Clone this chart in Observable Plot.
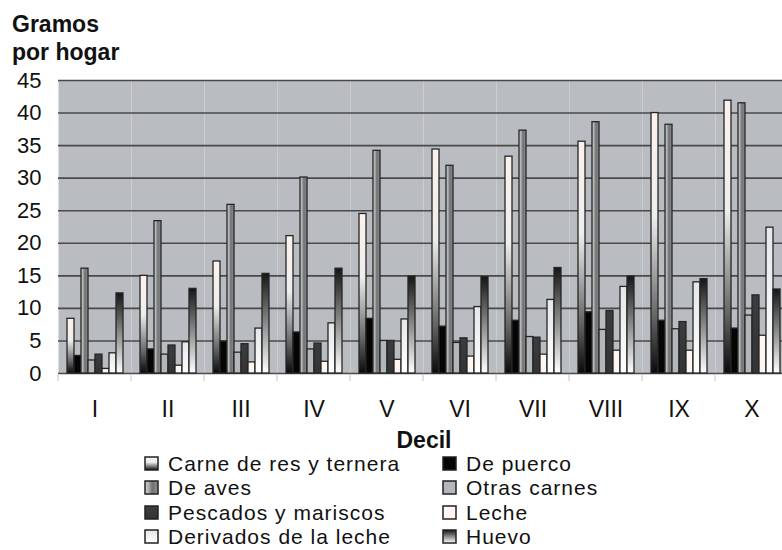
<!DOCTYPE html>
<html>
<head>
<meta charset="utf-8">
<script src="https://cdn.jsdelivr.net/npm/d3@7"></script>
<script src="https://cdn.jsdelivr.net/npm/@observablehq/plot@0.6"></script>
<style>
  body { margin: 0; width: 782px; height: 550px; overflow: hidden; background: #fff; position: relative;
         font-family: "Liberation Sans", Arial, sans-serif; color: #111; }
  #title { position: absolute; left: 12px; top: 10px; font-weight: bold; font-size: 23px; line-height: 28px; }
  #chart { position: absolute; left: 0; top: 0; width: 800px; }
  #chart svg { max-width: none !important; }
  #xlabel { position: absolute; left: 374px; width: 100px; top: 429px; text-align: center; font-weight: bold; font-size: 23px; line-height: 23px; }
  .leg { position: absolute; font-size: 21px; line-height: 21px; letter-spacing: 1px; white-space: nowrap; }
</style>
</head>
<body>
<div id="title">Gramos<br>por hogar</div>
<div id="chart"></div>
<div id="xlabel">Decil</div>
<div id="legend"></div>
<script>
// ---- data ----
const deciles = ["I", "II", "III", "IV", "V", "VI", "VII", "VIII", "IX", "X"];
const seriesNames = ["Carne de res y ternera", "De puerco", "De aves", "Otras carnes",
                     "Pescados y mariscos", "Leche", "Derivados de la leche", "Huevo"];
const carne     = [8.4, 15.0, 17.2, 21.1, 24.5, 34.4, 33.3, 35.6, 40.0, 41.9];
const puerco    = [2.7, 3.7, 4.9, 6.3, 8.4, 7.2, 8.1, 9.4, 8.1, 6.9];
const aves      = [16.1, 23.4, 25.9, 30.1, 34.2, 31.9, 37.3, 38.6, 38.2, 41.5];
const otras     = [2.0, 2.9, 3.2, 3.7, 5.0, 4.7, 5.6, 6.7, 6.8, 8.9];
const pescados  = [2.9, 4.3, 4.5, 4.6, 5.0, 5.4, 5.5, 9.6, 7.9, 12.0];
const leche     = [0.7, 1.2, 1.7, 1.8, 2.1, 2.6, 2.9, 3.5, 3.5, 5.8];
const derivados = [3.1, 4.8, 6.9, 7.7, 8.3, 10.2, 11.3, 13.3, 14.0, 22.4];
const huevo     = [12.3, 13.0, 15.3, 16.1, 14.9, 14.8, 16.2, 14.9, 14.5, 12.9];
const yTicks    = [0, 5, 10, 15, 20, 25, 30, 35, 40, 45];

const seriesValues = [carne, puerco, aves, otras, pescados, leche, derivados, huevo];
const data = [];
deciles.forEach((d, i) => seriesNames.forEach((s, j) => data.push({decile: d, series: s, value: seriesValues[j][i]})));

const fills = seriesNames.map((_, j) => `url(#g${j})`);

const chart = Plot.plot({
  width: 800,
  height: 460,
  marginLeft: 53,
  marginRight: 8,
  marginTop: 80,
  marginBottom: 87,
  style: {fontFamily: "'Liberation Sans', Arial, sans-serif", color: "#111", background: "transparent", maxWidth: "none"},
  fx: {domain: deciles, padding: 0, label: null},
  x: {domain: seriesNames, paddingInner: 0, paddingOuter: 0.68, axis: null},
  y: {domain: [0, 45]},
  color: {domain: seriesNames, range: fills},
  marks: [
    Plot.frame({fill: "#b9bcc0", stroke: null}),
    Plot.gridY(yTicks, {stroke: "#4a4a4a", strokeOpacity: 1, strokeWidth: 1.6}),
    Plot.barY(data, {fx: "decile", x: "series", y: "value", fill: "series", stroke: "#262626", strokeWidth: 1.3}),
    Plot.axisY(yTicks, {tickSize: 0, tickPadding: 17, fontSize: 22, label: null, tickFormat: d => String(d)}),
    Plot.axisFx({anchor: "bottom", tickSize: 0, tickPadding: 27, fontSize: 23, label: null}),
    Plot.axisFx({anchor: "bottom", tickSize: 6, dx: -36.95, dy: 2, stroke: "#c4c4c4", tickFormat: () => "", label: null})
  ]
});
chart.style.maxWidth = "none";

// gradients emulating the original bar fills
const defs = d3.select(chart).insert("defs", ":first-child");
function lin(id, stops, horiz) {
  const g = defs.append("linearGradient").attr("id", id)
    .attr("x1", 0).attr("y1", 0).attr("x2", horiz ? 1 : 0).attr("y2", horiz ? 0 : 1);
  stops.forEach(([o, c]) => g.append("stop").attr("offset", o).attr("stop-color", c));
}
lin("g0", [[0, "#fbf1ec"], [0.4, "#eeeeee"], [0.78, "#666666"], [1, "#0a0a0a"]]);
lin("g1", [[0, "#050505"], [1, "#050505"]]);
lin("g2", [[0, "#d2d3d5"], [0.3, "#a9abad"], [0.55, "#6f7173"], [1, "#8c8e90"]], true);
lin("g3", [[0, "#b3b6ba"], [1, "#b3b6ba"]]);
lin("g4", [[0, "#3b3c3e"], [1, "#333436"]]);
lin("g5", [[0, "#fff7f3"], [1, "#fff4ef"]]);
lin("g6", [[0, "#e4e6e8"], [1, "#ffffff"]]);
lin("g7", [[0, "#151515"], [0.5, "#8a8a8a"], [1, "#ffffff"]]);

document.getElementById("chart").appendChild(chart);

// legend (row-major, two columns)
const legend = document.getElementById("legend");
const colText = [168, 466], colSwatch = [145, 443];
const rowBase = [471, 495.3, 519.6, 543.9];
seriesNames.forEach((name, j) => {
  const c = j % 2, r = Math.floor(j / 2);
  const top = rowBase[r] - 18.1;
  const div = document.createElement("div");
  div.className = "leg";
  div.style.left = colText[c] + "px";
  div.style.top = top + "px";
  div.textContent = name;
  legend.appendChild(div);
  const sw = document.createElementNS("http://www.w3.org/2000/svg", "svg");
  sw.setAttribute("width", 16); sw.setAttribute("height", 16);
  sw.style.position = "absolute";
  sw.style.left = (colSwatch[c] - 1) + "px";
  sw.style.top = (rowBase[r] - 15) + "px";
  sw.innerHTML = `<rect x="1" y="1" width="13" height="13" fill="${fills[j]}" stroke="#222" stroke-width="1.5"/>`;
  legend.appendChild(sw);
});
</script>
</body>
</html>
